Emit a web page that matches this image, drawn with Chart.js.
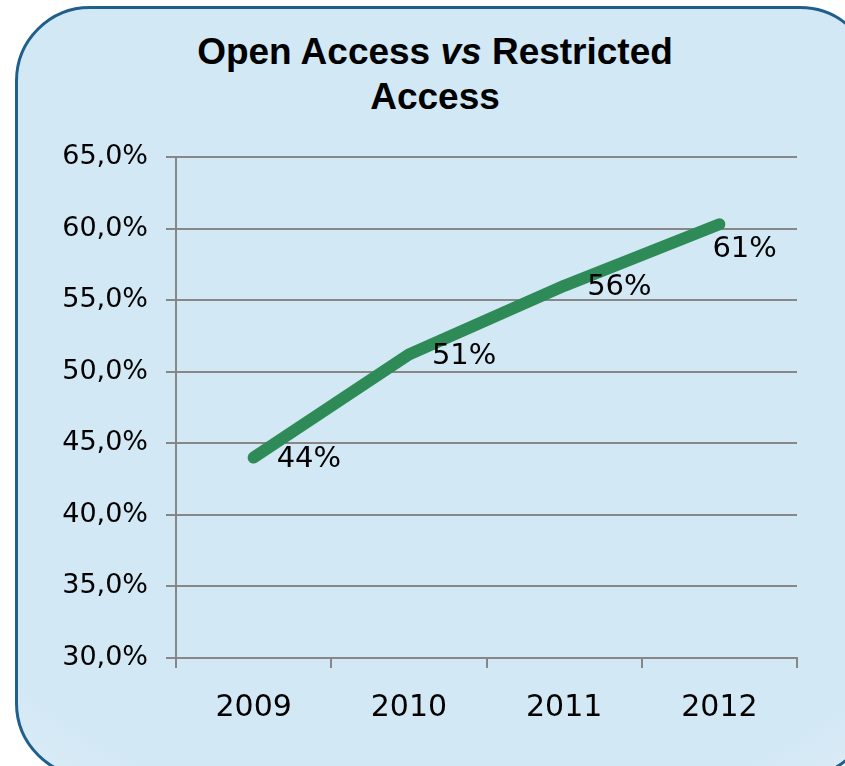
<!DOCTYPE html>
<html>
<head>
<meta charset="utf-8">
<script src="https://cdn.jsdelivr.net/npm/chart.js@4.4.0/dist/chart.umd.min.js"></script>
<style>
    html, body { margin: 0; padding: 0; background: #ffffff; }
    #wrap { position: relative; width: 845px; height: 766px; overflow: hidden; }
    #card {
        position: absolute; left: 15px; top: 6px; width: 860px; height: 772px;
        box-sizing: border-box; border: 3px solid #1f5f8c; border-radius: 75px;
        background: radial-gradient(ellipse 95% 90% at 50% 40%, #d3e8f5 75%, #e6f2fa 100%);
    }
    #title {
        position: absolute; left: 0; top: 29px; width: 870px; text-align: center;
        font-family: "Liberation Sans", Arial, sans-serif; font-weight: bold;
        font-size: 37px; line-height: 45px; color: #000;
    }
    canvas { position: absolute; left: 0; top: 0; }
</style>
</head>
<body>
<div id="wrap">
    <div id="card"></div>
    <div id="title">Open Access <i>vs</i> Restricted<br>Access</div>
    <canvas id="chart" width="845" height="766"></canvas>
</div>
<script>
const years = ['2009', '2010', '2011', '2012'];
const openAccess = [44.0, 51.2, 56.0, 60.3];
const pointLabels = ['44%', '51%', '56%', '61%'];
const yMin = 30;
const yMax = 65;
const yStep = 5;

const axisGray = '#878787';
const fontFamily = '"DejaVu Sans", sans-serif';

// draws the value labels to the right of each point (below if no room)
const valueLabels = {
    id: 'valueLabels',
    afterDatasetsDraw(chart) {
        const ctx = chart.ctx;
        const meta = chart.getDatasetMeta(0);
        ctx.save();
        ctx.font = '29px ' + fontFamily;
        ctx.fillStyle = '#000';
        ctx.textBaseline = 'middle';
        ctx.textAlign = 'left';
        meta.data.forEach((pt, i) => {
            const text = pointLabels[i];
            const w = ctx.measureText(text).width;
            let x = pt.x + 23;
            let y = pt.y + 2;
            if (x + w > chart.chartArea.right) {
                x = pt.x - 7;
                y = pt.y + 25;
            }
            ctx.fillText(text, x, y);
        });
        ctx.restore();
    }
};

new Chart(document.getElementById('chart'), {
    type: 'line',
    data: {
        labels: years,
        datasets: [{
            label: 'Open Access',
            data: openAccess,
            borderColor: '#2e8b57',
            borderWidth: 12,
            borderCapStyle: 'round',
            borderJoinStyle: 'round',
            pointRadius: 0,
            tension: 0,
            fill: false
        }]
    },
    options: {
        responsive: false,
        animation: false,
        layout: { padding: { top: 157, right: 48, left: 0, bottom: 0 } },
        plugins: {
            legend: { display: false },
            tooltip: { enabled: false }
        },
        scales: {
            x: {
                offset: true,
                afterFit(scale) { scale.height = 108; },
                border: { display: true, color: axisGray, width: 2 },
                grid: {
                    offset: true,
                    drawOnChartArea: false,
                    drawTicks: true,
                    tickLength: 10,
                    color: axisGray,
                    lineWidth: 2
                },
                ticks: {
                    color: '#000',
                    padding: 22,
                    font: { family: fontFamily, size: 30 }
                }
            },
            y: {
                min: yMin,
                max: yMax,
                afterFit(scale) { scale.width = 176; },
                border: { display: true, color: axisGray, width: 2 },
                grid: {
                    color: axisGray,
                    lineWidth: 2,
                    drawTicks: true,
                    tickLength: 10
                },
                ticks: {
                    stepSize: yStep,
                    color: '#000',
                    padding: 18,
                    font: { family: fontFamily, size: 27 },
                    callback: (v) => v.toFixed(1).replace('.', ',') + '%'
                }
            }
        }
    },
    plugins: [valueLabels]
});
</script>
</body>
</html>
